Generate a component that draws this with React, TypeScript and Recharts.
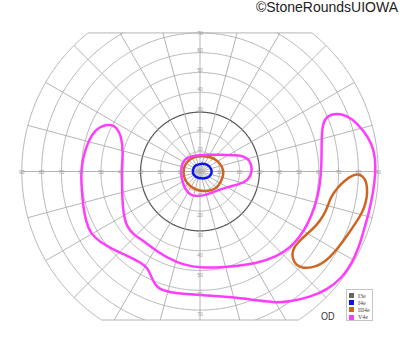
import React from 'react';
import { ComposedChart, Line, Scatter, XAxis, YAxis } from 'recharts';

// ---- chart frame (degrees of visual field) ----
const WIDTH = 400;
const HEIGHT = 352;
const xDomain: [number, number] = [-101.01, 101.01];
const yDomain: [number, number] = [-91.16, 86.62];

// ---- grid definition ----
const ringRadii = [10, 20, 30, 40, 50, 60, 70, 80, 90];
const meridianAngles = [0, 15, 30, 45, 60, 75, 90, 105, 120, 135, 150, 165, 180, 195, 210, 225, 240, 255, 270, 285, 300, 315, 330, 345];
const horizontalTickLabels = [10, 20, 30, 40, 50, 60, 70, 80, 90];
const verticalTickLabels = [10, 20, 30, 40, 50, 60, 70];
const topLimit = 70;
const bottomLimit = -75;
const outerRadius = 90;
const emphasizedRing = 30;

// ---- isopters (x, y in degrees) ----
const isopterNames = ['I3e', 'I4e', 'III4e', 'V4e'];
const isopterColors = ['#666666', '#0a14ee', '#cc6622', '#ff3dff'];

const i4eCentral: [number, number][] = [
  [-3.6, 0.8], [-2.8, 3.1], [0.5, 4.1], [3.8, 3.6], [5.8, 1.4], [6.1, -0.8],
  [4.6, -3.1], [1.0, -3.7], [-2.3, -2.9], [-3.7, -1.0],
];

const iii4eCentral: [number, number][] = [
  [1.5, 7.8], [5.6, 7.3], [9.1, 5.3], [11.4, 2.3], [12.1, -1.3], [10.6, -5.3],
  [8.1, -8.8], [3.5, -10.1], [-0.5, -9.8], [-5.1, -7.6], [-7.8, -4.3], [-8.6, -0.3],
  [-7.6, 3.8], [-5.1, 6.3], [-2.0, 7.6],
];

const iii4eIsland: [number, number][] = [
  [79.3, -1.0], [82.3, -2.3], [84.1, -5.3], [84.6, -10.4], [83.8, -15.9], [81.8, -21.0],
  [78.3, -26.5], [74.2, -32.6], [69.7, -38.6], [65.7, -43.2], [61.1, -47.0], [56.1, -48.7],
  [51.5, -48.7], [48.5, -47.2], [46.5, -43.7], [46.7, -39.6], [49.5, -35.6], [54.0, -31.6],
  [59.1, -27.0], [62.6, -22.0], [64.6, -17.4], [65.7, -13.9], [67.7, -10.4], [71.2, -6.3],
  [75.3, -2.8],
];

const v4eCentral: [number, number][] = [
  [-6.6, 7.1], [-2.0, 8.3], [5.1, 8.6], [12.6, 8.3], [20.2, 8.3], [24.0, 6.8],
  [26.0, 3.8], [26.3, -0.3], [24.5, -4.3], [20.2, -6.3], [14.1, -7.8], [8.1, -9.8],
  [3.0, -11.9], [-1.5, -12.6], [-5.1, -11.9], [-7.6, -8.8], [-9.3, -4.3], [-9.6, 0.8],
  [-8.8, 4.8],
];

const v4ePeripheral: [number, number][] = [
  [-46.5, 23.7], [-51.0, 22.5], [-54.5, 18.9], [-57.1, 13.4], [-59.1, 6.8], [-60.1, -0.3],
  [-59.8, -8.3], [-59.1, -16.9], [-57.6, -25.5], [-55.1, -31.6], [-50.5, -35.6], [-44.4, -39.1],
  [-37.4, -42.2], [-29.8, -46.0], [-26.3, -48.7], [-24.2, -54.3], [-21.7, -58.8], [-16.2, -61.1],
  [0, -62.4], [16.7, -63.4], [30.3, -65.4], [38.9, -66.2], [45.5, -65.7], [55.6, -63.4],
  [64.1, -59.8], [71.7, -53.8], [76.8, -46.2], [80.3, -38.1], [82.8, -29.5], [85.4, -20.5],
  [87.4, -10.9], [88.6, -1.8], [88.6, 6.8], [86.9, 13.9], [82.8, 20.5], [76.8, 27.0],
  [70.7, 29.3], [66.2, 29.0], [63.1, 26.8], [61.6, 22.0], [61.4, 13.4], [61.4, 3.3],
  [60.6, -7.3], [58.3, -17.4], [54.5, -26.5], [50.0, -33.6], [45.5, -38.4], [38.9, -42.9],
  [28.8, -46.5], [13.6, -48.2], [0, -49.0], [-12.1, -46.2], [-22.2, -40.2], [-28.8, -34.8],
  [-33.3, -32.1], [-36.9, -28.0], [-38.6, -22.0], [-39.4, -11.9], [-39.4, 0.8], [-38.9, 9.8],
  [-39.6, 17.4], [-41.9, 22.0], [-44.4, 23.5],
];

const isopters = [
  { name: 'I4e', color: isopterColors[1], points: i4eCentral },
  { name: 'III4e', color: isopterColors[2], points: iii4eCentral },
  { name: 'III4e', color: isopterColors[2], points: iii4eIsland },
  { name: 'V4e', color: isopterColors[3], points: v4eCentral },
  { name: 'V4e', color: isopterColors[3], points: v4ePeripheral },
];

type Pt = { x: number; y: number };

const inside = (y: number) => y <= topLimit + 1e-9 && y >= bottomLimit - 1e-9;

function ringSegments(r: number): Pt[][] {
  const segs: Pt[][] = [];
  let cur: Pt[] = [];
  let prev: Pt | null = null;
  for (let i = 0; i <= 720; i++) {
    const a = ((90 + i * 0.5) * Math.PI) / 180;
    const p = { x: r * Math.cos(a), y: r * Math.sin(a) };
    if (prev) {
      const pin = inside(prev.y);
      const cin = inside(p.y);
      if (pin !== cin) {
        const outY = pin ? p.y : prev.y;
        const lim = outY > topLimit ? topLimit : bottomLimit;
        const t = (lim - prev.y) / (p.y - prev.y);
        const q = { x: prev.x + t * (p.x - prev.x), y: lim };
        cur.push(q);
        if (pin && !cin) {
          segs.push(cur);
          cur = [];
        }
      }
    }
    if (inside(p.y)) cur.push(p);
    prev = p;
  }
  if (cur.length > 1) segs.push(cur);
  return segs;
}

function spoke(angle: number): Pt[] {
  const a = (angle * Math.PI) / 180;
  let ex = outerRadius * Math.cos(a);
  let ey = outerRadius * Math.sin(a);
  if (ey > topLimit) {
    const t = topLimit / ey;
    ex *= t;
    ey *= t;
  } else if (ey < bottomLimit) {
    const t = bottomLimit / ey;
    ex *= t;
    ey *= t;
  }
  return [{ x: 0, y: 0 }, { x: ex, y: ey }];
}

const chordHalf = (lim: number) => Math.sqrt(outerRadius * outerRadius - lim * lim);

const gridSegments: { pts: Pt[]; dark: boolean }[] = [];
ringRadii.forEach((r) => {
  ringSegments(r).forEach((s) => gridSegments.push({ pts: s, dark: r === emphasizedRing }));
});
meridianAngles.forEach((a) => gridSegments.push({ pts: spoke(a), dark: false }));
gridSegments.push({ pts: [{ x: -chordHalf(topLimit), y: topLimit }, { x: chordHalf(topLimit), y: topLimit }], dark: false });
gridSegments.push({ pts: [{ x: -chordHalf(bottomLimit), y: bottomLimit }, { x: chordHalf(bottomLimit), y: bottomLimit }], dark: false });

const tickLabelData: { x: number; y: number; label: string; dy: number }[] = [];
horizontalTickLabels.forEach((v) => {
  tickLabelData.push({ x: -v, y: 0, label: String(v), dy: 0 });
  tickLabelData.push({ x: v, y: 0, label: String(v), dy: 0 });
});
verticalTickLabels.forEach((v) => {
  tickLabelData.push({ x: 0, y: v, label: String(v), dy: v === 70 ? 0 : -3 });
  tickLabelData.push({ x: 0, y: -v, label: String(v), dy: 4 });
});

const TickLabel = (props: any) => {
  const { cx, cy, payload } = props;
  if (cx == null || cy == null) return null;
  return (
    <text
      x={cx}
      y={cy + (payload?.dy ?? 0)}
      textAnchor="middle"
      dominantBaseline="central"
      fontSize={5}
      fontFamily="Liberation Sans, Arial, sans-serif"
      fill="#9a9a9a"
    >
      {payload?.label}
    </text>
  );
};

const toPts = (arr: [number, number][]) => arr.map(([x, y]) => ({ x, y }));

export default function App() {
  return (
    <div style={{ position: 'absolute', left: 0, top: 0, width: WIDTH, height: HEIGHT, background: '#fff' }}>
      <ComposedChart width={WIDTH} height={HEIGHT} margin={{ top: 0, right: 0, bottom: 0, left: 0 }}>
        <XAxis type="number" dataKey="x" domain={xDomain} allowDataOverflow hide />
        <YAxis type="number" dataKey="y" domain={yDomain} allowDataOverflow hide />
        {gridSegments.map((g, i) => (
          <Line
            key={'g' + i}
            data={g.pts}
            dataKey="y"
            type="linear"
            stroke={g.dark ? '#555555' : '#ababab'}
            strokeWidth={g.dark ? 1.2 : 0.9}
            dot={false}
            activeDot={false}
            legendType="none"
            isAnimationActive={false}
          />
        ))}
        <Scatter data={tickLabelData} shape={TickLabel} isAnimationActive={false} legendType="none" />
        {isopters.map((iso, i) => (
          <Line
            key={'iso' + i}
            name={iso.name}
            data={toPts(iso.points)}
            dataKey="y"
            type="basisClosed"
            stroke={iso.color}
            strokeWidth={2.5}
            dot={false}
            activeDot={false}
            isAnimationActive={false}
          />
        ))}
      </ComposedChart>
      <div
        style={{
          position: 'absolute',
          right: 2,
          top: -1,
          fontSize: 14,
          lineHeight: '16px',
          fontFamily: 'Liberation Sans, Arial, sans-serif',
          color: '#222',
          whiteSpace: 'nowrap',
        }}
      >
        ©StoneRoundsUIOWA
      </div>
      <div
        style={{
          position: 'absolute',
          left: 321,
          top: 310,
          fontSize: 11,
          lineHeight: '12px',
          fontFamily: 'Liberation Sans, Arial, sans-serif',
          color: '#333',
          transform: 'scaleX(0.82)',
          transformOrigin: 'left top',
        }}
      >
        OD
      </div>
      <div
        style={{
          position: 'absolute',
          left: 346,
          top: 289,
          width: 27,
          height: 32,
          border: '1px solid #c4c4c4',
          background: '#fff',
          boxSizing: 'border-box',
          paddingTop: 2,
          paddingLeft: 2,
        }}
      >
        {isopterNames.map((n, i) => (
          <div key={n} style={{ display: 'flex', alignItems: 'center', height: 7.2 }}>
            <span style={{ display: 'inline-block', width: 5, height: 5, background: isopterColors[i], marginRight: 4, flexShrink: 0 }} />
            <span style={{ fontSize: 6, lineHeight: '6px', fontFamily: 'Liberation Serif, serif', color: '#444', whiteSpace: 'nowrap' }}>{n}</span>
          </div>
        ))}
      </div>
    </div>
  );
}
